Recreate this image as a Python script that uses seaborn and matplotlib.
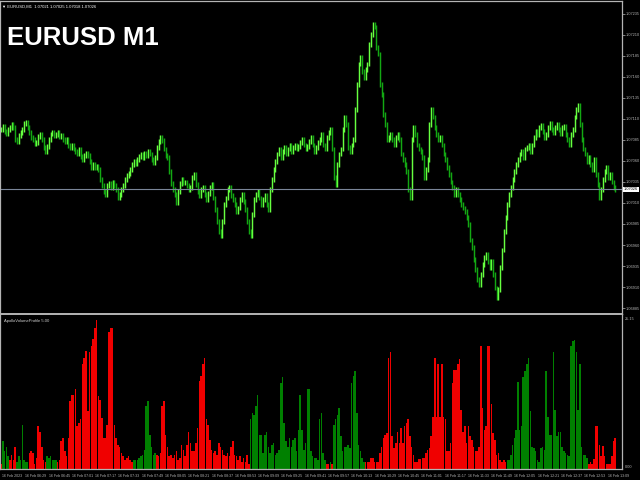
import numpy as np
import pandas as pd
import matplotlib
matplotlib.use("Agg")
import matplotlib.pyplot as plt
import seaborn as sns

# Chart data
SYMBOL = "EURUSD M1"
HEADER = "\u25bc EURUSD,M1  1.07021 1.07025 1.07018 1.07026"
IND_NAME = "ApolloVolumeProfile 5.00"
PRICE_BASE = 1.07000
LAST_PRICE = 1.07026

# closes of each M1 bar, in points above PRICE_BASE
close_pts = [
    97, 101, 95, 92, 97, 100, 103, 100, 85, 83, 90, 94,
    97, 104, 106, 100, 94, 88, 85, 81, 82, 89, 91, 85,
    76, 71, 77, 85, 92, 94, 90, 91, 94, 89, 90, 85,
    83, 85, 78, 76, 79, 74, 71, 68, 74, 65, 62, 66,
    69, 66, 59, 52, 56, 52, 54, 50, 38, 31, 24, 20,
    31, 33, 28, 34, 31, 26, 16, 20, 26, 31, 38, 43,
    45, 50, 56, 59, 57, 62, 65, 68, 64, 69, 66, 71,
    68, 62, 58, 64, 76, 83, 88, 84, 74, 66, 64, 47,
    33, 26, 20, 10, 24, 33, 38, 34, 35, 31, 26, 28,
    40, 44, 32, 24, 19, 26, 28, 20, 14, 21, 28, 32,
    16, 2, -12, -24, -29, -12, 8, 16, 26, 28, 19, 14,
    8, 0, 4, 14, 20, 12, 2, -12, -24, -29, -4, 14,
    20, 24, 16, 8, 14, 19, 8, 2, 26, 38, 50, 59,
    68, 74, 64, 71, 76, 68, 74, 78, 71, 76, 79, 74,
    77, 82, 85, 79, 74, 77, 83, 88, 79, 71, 76, 82,
    85, 91, 79, 74, 88, 94, 97, 74, 40, 32, 56, 68,
    74, 97, 112, 103, 76, 71, 79, 85, 121, 151, 175, 183,
    166, 159, 169, 175, 198, 210, 222, 219, 195, 187, 151, 139,
    115, 103, 85, 88, 92, 85, 79, 88, 91, 85, 68, 62,
    56, 47, 26, 16, 85, 100, 91, 79, 74, 71, 64, 40,
    50, 62, 103, 121, 112, 100, 91, 85, 88, 79, 68, 62,
    52, 44, 35, 28, 20, 26, 20, 14, 8, 4, 0, -7,
    -16, -34, -43, -57, -69, -81, -87, -75, -63, -55, -51, -60,
    -67, -60, -75, -91, -103, -93, -67, -46, -24, -7, 8, 20,
    28, 38, 47, 56, 62, 68, 71, 64, 74, 76, 79, 71,
    79, 88, 95, 91, 100, 102, 95, 88, 91, 100, 104, 97,
    94, 100, 103, 97, 92, 100, 101, 91, 85, 79, 91, 97,
    112, 121, 126, 103, 85, 74, 68, 59, 64, 56, 50, 62,
    44, 32, 16, 26, 38, 47, 52, 40, 44, 35, 28, 26,
]

# volume profile histogram, one value per bar
volume = [
    0.9, 4.6, 2.9, 3.7, 2.1, 1.5, 2.3, 1.5, 3.7, 1.2,
    2.1, 1.5, 7.2, 1.5, 1.2, 1.2, 2.6, 2.9, 2.6, 0.9,
    1.8, 7.1, 6.2, 3.7, 1.5, 1.2, 2.1, 1.8, 2.1, 1.5,
    1.5, 1.5, 1.2, 1.5, 4.6, 5.1, 2.9, 2.1, 5.1, 11.2,
    12.2, 12.2, 13.3, 7.1, 7.6, 8.3, 17.3, 18.4, 19.6, 9.6,
    19.3, 20.4, 21.5, 23.4, 24.6, 12.1, 11.5, 8.4, 5.1, 5.1,
    7.2, 22.6, 23.4, 23.4, 7.2, 5.1, 4.0, 3.7, 2.6, 2.1,
    1.5, 1.8, 2.1, 1.5, 1.2, 1.5, 1.5, 1.5, 1.8, 2.1,
    2.3, 3.2, 10.4, 11.2, 5.7, 3.7, 2.3, 2.6, 2.3, 2.1,
    2.6, 10.4, 11.2, 5.7, 3.7, 2.1, 2.3, 1.8, 2.3, 2.9,
    1.5, 1.8, 4.0, 3.2, 2.1, 4.0, 6.1, 4.3, 2.9, 2.9,
    4.3, 6.8, 14.6, 15.4, 17.3, 18.3, 8.2, 7.3, 4.8, 3.2,
    2.6, 2.9, 2.3, 4.3, 3.7, 3.2, 2.3, 2.1, 2.6, 2.1,
    3.7, 4.6, 2.3, 2.1, 1.5, 2.1, 1.2, 1.8, 1.2, 2.3,
    0.9, 8.2, 9.3, 9.0, 10.4, 12.2, 5.7, 5.7, 2.6, 5.7,
    6.1, 3.7, 2.6, 4.0, 4.3, 2.3, 2.6, 3.2, 14.3, 15.3,
    7.6, 4.6, 3.7, 5.1, 3.7, 4.8, 5.1,
    2.9, 6.5, 12.2, 6.5, 3.2, 4.3, 13.3, 13.3, 2.9, 2.1,
    1.8, 1.8, 1.5, 8.2, 9.2, 2.6, 1.5, 0.9, 0.9, 1.2,
    0.9, 7.2, 8.2, 9.0, 10.1, 5.4, 2.9, 3.7, 3.7, 4.0,
    3.4, 14.3, 15.4, 16.2, 9.3, 4.0, 2.9, 1.8, 1.2, 1.2,
    1.2, 1.2, 1.8, 1.8, 1.2, 1.2, 1.2, 2.6, 3.7, 5.1,
    5.7, 5.9, 18.4, 19.3, 5.4, 3.4, 4.3, 6.1, 4.3, 6.8,
    4.3, 7.1, 7.6, 8.2, 5.4, 3.7, 2.3, 1.2, 1.2, 1.6,
    1.6, 1.8, 1.8, 2.6, 3.2, 3.4, 5.4, 8.6, 18.3, 8.6,
    17.3, 8.6, 17.3, 8.6, 8.2, 2.9, 2.9, 4.3, 14.3, 16.4,
    16.4, 17.3, 18.2, 9.8, 6.2, 7.1, 4.3, 7.1, 5.4, 4.8,
    3.7, 2.9, 2.9, 3.7, 20.4, 10.1, 6.5, 7.1, 20.4, 20.4,
    10.7, 5.9, 4.8, 2.3, 2.6, 1.5, 1.2, 1.5, 1.2, 1.5,
    1.5, 2.3, 4.0, 5.1, 6.5, 14.4, 6.5, 7.1, 15.3, 16.2,
    17.3, 18.3, 9.6, 3.7, 3.4, 2.9, 1.5, 1.2, 3.4, 3.7,
    3.2, 16.2, 8.6, 5.7, 5.7, 19.3, 9.8, 5.4, 6.1, 6.1,
    3.7, 2.9, 2.6, 2.3, 2.1, 20.4, 21.2, 21.4, 19.3, 9.8,
    17.3, 3.7, 2.3, 2.3, 1.8, 0.9, 1.2, 0.9, 1.6, 7.1,
    7.1, 4.0, 2.1, 3.8, 2.2, 0.9, 0.9, 0.9, 2.1, 4.7,
    5.1,
]

# colour of the histogram, as runs of (side, number of bars)
side_runs = [
    ("down", 1), ("up", 4), ("down", 4), ("up", 7), ("down", 10),
    ("up", 6), ("down", 43), ("up", 13), ("down", 53), ("up", 43),
    ("down", 2), ("up", 1), ("down", 1), ("up", 18), ("down", 80),
    ("up", 46), ("down", 16),
]

price_ticks = [1.07235, 1.07210, 1.07185, 1.07160, 1.07135, 1.07110, 1.07085,
               1.07060, 1.07035, 1.07010, 1.06985, 1.06960, 1.06935, 1.06910,
               1.06885]
vol_ticks = [0.0, 25.15]
vol_tick_labels = ["0.00", "25.15"]

time_labels = ["16 Feb 2023", "16 Feb 06:29", "16 Feb 06:45", "16 Feb 07:01",
               "16 Feb 07:17", "16 Feb 07:33", "16 Feb 07:49", "16 Feb 08:05",
               "16 Feb 08:21", "16 Feb 08:37", "16 Feb 08:53", "16 Feb 09:09",
               "16 Feb 09:25", "16 Feb 09:41", "16 Feb 09:57", "16 Feb 10:13",
               "16 Feb 10:29", "16 Feb 10:45", "16 Feb 11:01", "16 Feb 11:17",
               "16 Feb 11:33", "16 Feb 11:49", "16 Feb 12:05", "16 Feb 12:21",
               "16 Feb 12:37", "16 Feb 12:53", "16 Feb 13:09"]

# Style
BG = "black"
FRAME = "#b4b4b4"
TXT = "#d0d0d0"
UP_BAR = "#66ff40"
DN_BAR = "#13a813"
VOL_COLORS = {"up": "#008000", "down": "#f00000"}
FONTS = ["Liberation Sans", "DejaVu Sans"]
SMALL = dict(fontsize=2.8, family=FONTS, color=TXT)

sns.set_style("dark", {"axes.facecolor": BG, "figure.facecolor": BG})

W, H = 640, 480
fig = plt.figure(figsize=(6.4, 4.8), dpi=100)
fig.patch.set_facecolor(BG)

def frac(x0, y0, x1, y1):
    return [x0 / W, 1 - y1 / H, (x1 - x0) / W, (y1 - y0) / H]

ax1 = fig.add_axes(frac(0, 1, 622, 314))
ax2 = fig.add_axes(frac(0, 314, 622, 469))

n = len(close_pts)
idx = np.arange(n)
close = PRICE_BASE + np.array(close_pts) / 1e5
prev = np.r_[close[0], close[:-1]]
lo = np.minimum(prev, close) - 0.000028
hi = np.maximum(prev, close) + 0.000028
colors = np.where(close >= prev, UP_BAR, DN_BAR)

xmin, xmax = -0.6, 350.8
ylo, yhi = 1.06878, 1.07250

# price panel
ax1.set_facecolor(BG)
ax1.vlines(idx, lo, hi, colors=colors, linewidth=1.05)
ax1.axhline(LAST_PRICE, color="#7a8599", linewidth=0.8)
ax1.set_xlim(xmin, xmax)
ax1.set_ylim(ylo, yhi)
ax1.set_xticks([])
ax1.yaxis.tick_right()
ax1.set_yticks(price_ticks)
ax1.set_yticklabels([f"{p:.5f}" for p in price_ticks], **SMALL)
ax1.tick_params(axis="y", colors=FRAME, length=2, width=0.5, pad=0.8)
ax1.text(1.003, (LAST_PRICE - ylo) / (yhi - ylo), f"{LAST_PRICE:.5f}",
         transform=ax1.transAxes, ha="left", va="center", fontsize=2.8,
         family=FONTS, color="black",
         bbox=dict(boxstyle="square,pad=0.2", fc="white", ec="white", lw=0))
ax1.text(2 / 622, 0.983, HEADER, transform=ax1.transAxes, ha="left", va="center",
         fontsize=3.0, family=FONTS, color="white")
fig.text(7 / W, 1 - 45 / H, SYMBOL, ha="left", va="baseline", fontsize=18.5,
         fontweight="bold", family=FONTS, color="white")

# volume panel
side = [s for s, k in side_runs for _ in range(k)]
df = pd.DataFrame({"bar": idx, "volume": volume, "side": side})
sns.barplot(data=df, x="bar", y="volume", hue="side", palette=VOL_COLORS,
            dodge=False, native_scale=True, width=0.88, linewidth=0,
            saturation=1, legend=False, ax=ax2)
ax2.set_facecolor(BG)
ax2.set_xlim(xmin, xmax)
ax2.set_ylim(0, 25.65)
ax2.set_xlabel("")
ax2.set_ylabel("")
ax2.yaxis.tick_right()
ax2.set_yticks(vol_ticks)
ax2.set_yticklabels(vol_tick_labels, **SMALL)
for lab, va in zip(ax2.get_yticklabels(), ["bottom", "top"]):
    lab.set_va(va)
ax2.tick_params(axis="y", colors=FRAME, length=0, pad=2)
tpos = 0.5 + np.arange(len(time_labels)) * 13.16
ax2.set_xticks(tpos)
ax2.set_xticklabels(time_labels, ha="left", fontsize=2.6, family=FONTS, color=TXT)
ax2.tick_params(axis="x", colors=FRAME, length=3, width=0.5, pad=0.8, direction="out")
ax2.text(4 / 622, 0.955, IND_NAME, transform=ax2.transAxes, ha="left", va="center",
         fontsize=3.0, family=FONTS, color=TXT)

for ax in (ax1, ax2):
    ax.grid(False)
    for s in ax.spines.values():
        s.set_visible(True)
        s.set_color(FRAME)
        s.set_linewidth(0.9)
ax2.spines["top"].set_linewidth(1.4)

fig.savefig("out.png", dpi=100, facecolor=BG)
